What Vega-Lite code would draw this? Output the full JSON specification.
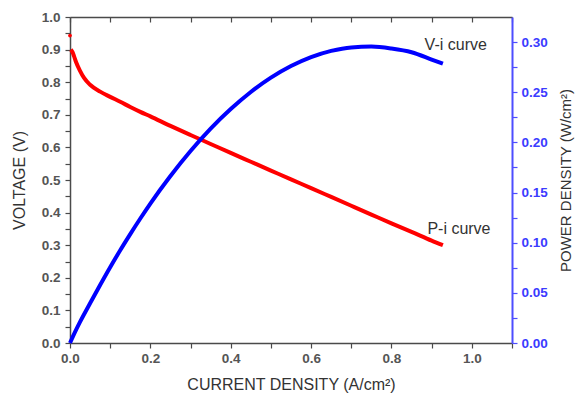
{
  "$schema": "https://vega.github.io/schema/vega-lite/v6.json",
  "width": 442,
  "height": 326,
  "autosize": {"type": "none"},
  "padding": {"left": 70, "top": 17, "right": 64, "bottom": 51},
  "background": "white",
  "config": {
    "view": {"stroke": null},
    "font": "Liberation Sans",
    "axis": {
      "grid": false,
      "domainColor": "#4a4a4a",
      "domainWidth": 1.5,
      "tickColor": "#4a4a4a",
      "tickWidth": 1.2,
      "tickSize": 5,
      "labelColor": "#555555",
      "labelFontSize": 13.5,
      "labelFontWeight": "bold",
      "labelFont": "Liberation Sans",
      "labelFlush": false,
      "labelOverlap": false,
      "titleFont": "Liberation Sans",
      "titleColor": "#333333",
      "titleFontSize": 16,
      "titleFontWeight": "normal"
    }
  },
  "datasets": {
    "red": [
      {"i": 0.000, "V": 0.943},
      {"i": 0.002, "V": 0.900},
      {"i": 0.006, "V": 0.893},
      {"i": 0.010, "V": 0.880},
      {"i": 0.015, "V": 0.862},
      {"i": 0.025, "V": 0.835},
      {"i": 0.035, "V": 0.813},
      {"i": 0.050, "V": 0.792},
      {"i": 0.075, "V": 0.771},
      {"i": 0.100, "V": 0.755},
      {"i": 0.125, "V": 0.740},
      {"i": 0.150, "V": 0.724},
      {"i": 0.175, "V": 0.709},
      {"i": 0.200, "V": 0.695},
      {"i": 0.250, "V": 0.666},
      {"i": 0.300, "V": 0.638},
      {"i": 0.350, "V": 0.6105},
      {"i": 0.400, "V": 0.583},
      {"i": 0.450, "V": 0.556},
      {"i": 0.500, "V": 0.529},
      {"i": 0.550, "V": 0.502},
      {"i": 0.600, "V": 0.475},
      {"i": 0.650, "V": 0.448},
      {"i": 0.700, "V": 0.421},
      {"i": 0.750, "V": 0.394},
      {"i": 0.800, "V": 0.367},
      {"i": 0.850, "V": 0.341},
      {"i": 0.900, "V": 0.314},
      {"i": 0.928, "V": 0.300}
    ],
    "blue": [
      {"i": 0.000, "P": 0.0000},
      {"i": 0.010, "P": 0.0088},
      {"i": 0.025, "P": 0.0210},
      {"i": 0.050, "P": 0.0396},
      {"i": 0.075, "P": 0.0578},
      {"i": 0.100, "P": 0.0755},
      {"i": 0.125, "P": 0.0925},
      {"i": 0.150, "P": 0.1086},
      {"i": 0.175, "P": 0.1241},
      {"i": 0.200, "P": 0.1390},
      {"i": 0.250, "P": 0.1665},
      {"i": 0.300, "P": 0.1914},
      {"i": 0.350, "P": 0.2137},
      {"i": 0.400, "P": 0.2332},
      {"i": 0.450, "P": 0.2502},
      {"i": 0.500, "P": 0.2645},
      {"i": 0.550, "P": 0.2761},
      {"i": 0.600, "P": 0.2850},
      {"i": 0.650, "P": 0.2912},
      {"i": 0.700, "P": 0.2947},
      {"i": 0.750, "P": 0.2955},
      {"i": 0.800, "P": 0.2936},
      {"i": 0.850, "P": 0.2899},
      {"i": 0.900, "P": 0.2826},
      {"i": 0.928, "P": 0.2784}
    ],
    "notes": [
      {"i": 0.960, "V": 0.913, "label": "V-i curve"},
      {"i": 0.968, "V": 0.350, "label": "P-i curve"}
    ]
  },
  "layer": [
    {
      "encoding": {
        "x": {
          "field": "i", "type": "quantitative",
          "scale": {"domain": [0, 1.1], "nice": false, "zero": false},
          "axis": {
            "orient": "bottom",
            "title": "CURRENT DENSITY (A/cm²)",
            "titlePadding": 12,
            "values": [0, 0.1, 0.2, 0.3, 0.4, 0.5, 0.6, 0.7, 0.8, 0.9, 1.0, 1.1],
            "labelExpr": "abs(datum.value*5 - round(datum.value*5)) < 0.001 ? format(datum.value, '.1f') : ''",
            "labelPadding": 3
          }
        },
        "y": {
          "field": "V", "type": "quantitative",
          "scale": {"domain": [0, 1], "nice": false},
          "axis": {
            "orient": "left",
            "title": "VOLTAGE (V)",
            "titlePadding": 14,
            "values": [0, 0.05, 0.1, 0.15, 0.2, 0.25, 0.3, 0.35, 0.4, 0.45, 0.5, 0.55, 0.6, 0.65, 0.7, 0.75, 0.8, 0.85, 0.9, 0.95, 1.0],
            "labelExpr": "abs(datum.value*10 - round(datum.value*10)) < 0.001 ? format(datum.value, '.1f') : ''",
            "labelPadding": 5
          }
        }
      },
      "layer": [
        {
          "data": {"name": "red"},
          "transform": [{"filter": "datum.i > 0"}],
          "mark": {"type": "line", "color": "#ff0000", "strokeWidth": 4, "interpolate": "monotone"}
        },
        {
          "data": {"name": "red"},
          "transform": [{"filter": "datum.i == 0"}],
          "mark": {"type": "point", "filled": true, "color": "#ff0000", "size": 14, "opacity": 1}
        },
        {
          "data": {"name": "notes"},
          "mark": {"type": "text", "fontSize": 16, "color": "#333333", "font": "Liberation Sans"},
          "encoding": {"text": {"field": "label"}}
        }
      ]
    },
    {
      "data": {"name": "blue"},
      "mark": {"type": "line", "color": "#0000ff", "strokeWidth": 4, "interpolate": "monotone"},
      "encoding": {
        "x": {
          "field": "i", "type": "quantitative",
          "scale": {"domain": [0, 1.1], "nice": false, "zero": false},
          "axis": {
            "orient": "top",
            "title": null,
            "labels": false,
            "tickSize": -5,
            "values": [0, 0.1, 0.2, 0.3, 0.4, 0.5, 0.6, 0.7, 0.8, 0.9, 1.0, 1.1]
          }
        },
        "y": {
          "field": "P", "type": "quantitative",
          "scale": {"domain": [0, 0.325], "nice": false},
          "axis": {
            "orient": "right",
            "title": "POWER DENSITY (W/cm²)",
            "titleAngle": -90,
            "titleFontSize": 15,
            "titlePadding": 26,
            "values": [0, 0.025, 0.05, 0.075, 0.1, 0.125, 0.15, 0.175, 0.2, 0.225, 0.25, 0.275, 0.3],
            "labelExpr": "abs(datum.value*20 - round(datum.value*20)) < 0.001 ? format(datum.value, '.2f') : ''",
            "domainColor": "#4d4dff",
            "domainWidth": 2,
            "tickColor": "#4d4dff",
            "labelColor": "#3b3bff",
            "labelPadding": 4
          }
        }
      }
    }
  ],
  "resolve": {"scale": {"y": "independent"}, "axis": {"x": "independent"}}
}
